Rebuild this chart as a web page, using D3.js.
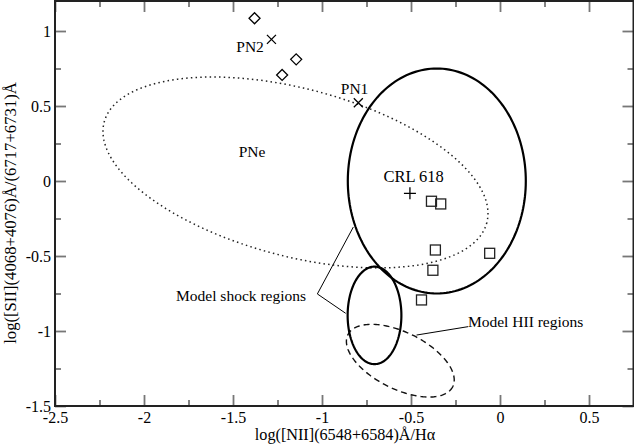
<!DOCTYPE html>
<html>
<head>
<meta charset="utf-8">
<script src="https://cdn.jsdelivr.net/npm/d3@7"></script>
<style>
html,body{margin:0;padding:0;background:#fff;}
svg{display:block;}
text{font-family:"Liberation Serif","Times New Roman",serif;fill:#000;}
</style>
</head>
<body>
<svg id="chart" width="634" height="448"></svg>
<script>
// ---- data (data units) ----
const xDomain = [-2.5, 0.75];
const yDomain = [-1.5, 1.2];
const xTicks = [-2.5, -2, -1.5, -1, -0.5, 0, 0.5];
const yTicks = [-1.5, -1, -0.5, 0, 0.5, 1];
const xMinor = [-2.25, -1.75, -1.25, -0.75, -0.25, 0.25];
const yMinor = [-1.25, -0.75, -0.25, 0.25, 0.75];

const diamonds = [[-1.379, 1.085], [-1.145, 0.811], [-1.224, 0.707]];
const crosses = [[-1.284, 0.944], [-0.796, 0.522]];
const plusPts = [[-0.506, -0.082]];
const squares = [[-0.385, -0.135], [-0.333, -0.153], [-0.363, -0.46], [-0.058, -0.482], [-0.377, -0.595], [-0.441, -0.793]];

// ellipses: center, two conjugate semi-axis vectors (data units)
const ellPNe   = {c: [-1.149, 0.057], u: [1.075, -0.335], v: [-0.119, -0.541]};
const ellCRL   = {c: [-0.355, 0.0],   u: [0.5, 0],        v: [0, 0.75]};
const ellShock = {c: [-0.705, -0.896],u: [0.151, 0],      v: [0, 0.325]};
const ellHII   = {c: [-0.56, -1.198], u: [0.295, -0.172], v: [-0.0687, -0.1708]};

const shockLeader = [[-0.824, -0.307], [-1.026, -0.753], [-0.867, -0.882]];
const hiiLeader = [[-0.469, -1.027], [-0.179, -0.971]];

const labels = [
  {t: "PN2", x: -1.404, y: 0.86, size: 15.5, anchor: "middle"},
  {t: "PN1", x: -0.817, y: 0.58, size: 15.5, anchor: "middle"},
  {t: "PNe", x: -1.393, y: 0.16, size: 15.5, anchor: "middle"},
  {t: "CRL 618", x: -0.485, y: -0.005, size: 16.5, anchor: "middle"},
  {t: "Model shock regions", x: -1.82, y: -0.8, size: 15.5, anchor: "start"},
  {t: "Model HII regions", x: -0.18, y: -0.97, size: 15.5, anchor: "start"}
];

const xTitle = "log([NII](6548+6584)Å/Hα";
const yTitle = "log([SII](4068+4076)Å/(6717+6731)Å";

// ---- drawing ----
const svg = d3.select("#chart");
const L = 55, R = 633.5, T = 1, B = 406;
const x = d3.scaleLinear().domain(xDomain).range([L, R]);
const y = d3.scaleLinear().domain(yDomain).range([B, T]);

const tickCol = "#777";
const fmt = d => String(d);

svg.append("g").attr("transform", `translate(0,${B})`)
  .call(d3.axisBottom(x).tickValues(xTicks).tickSize(-11).tickFormat(fmt).tickPadding(6));
svg.append("g").attr("transform", `translate(0,${T})`)
  .call(d3.axisTop(x).tickValues(xTicks).tickSize(-11).tickFormat(""));
svg.append("g").attr("transform", `translate(${L},0)`)
  .call(d3.axisLeft(y).tickValues(yTicks).tickSize(-11).tickFormat(fmt).tickPadding(4));
svg.append("g").attr("transform", `translate(${R},0)`)
  .call(d3.axisRight(y).tickValues(yTicks).tickSize(-11).tickFormat(""));
svg.append("g").attr("transform", `translate(0,${B})`)
  .call(d3.axisBottom(x).tickValues(xMinor).tickSize(-6).tickFormat(""));
svg.append("g").attr("transform", `translate(0,${T})`)
  .call(d3.axisTop(x).tickValues(xMinor).tickSize(-6).tickFormat(""));
svg.append("g").attr("transform", `translate(${L},0)`)
  .call(d3.axisLeft(y).tickValues(yMinor).tickSize(-6).tickFormat(""));
svg.append("g").attr("transform", `translate(${R},0)`)
  .call(d3.axisRight(y).tickValues(yMinor).tickSize(-6).tickFormat(""));

svg.selectAll(".domain").remove();
svg.selectAll(".tick line").attr("stroke", tickCol).attr("stroke-width", 1.8);
svg.selectAll(".tick text").attr("fill", "#000")
  .style("font-family", '"Liberation Serif",serif').style("font-size", "16px");

// frame
svg.append("rect").attr("x", L).attr("y", T).attr("width", R - L).attr("height", B - T)
  .attr("fill", "none").attr("stroke", "#222").attr("stroke-width", 2);

// ellipses
function ellPath(e){
  const ts = d3.range(0, 361, 2).map(d => d * Math.PI / 180);
  const pts = ts.map(t => [e.c[0] + e.u[0]*Math.cos(t) + e.v[0]*Math.sin(t),
                           e.c[1] + e.u[1]*Math.cos(t) + e.v[1]*Math.sin(t)]);
  return d3.line().x(d => x(d[0])).y(d => y(d[1])).curve(d3.curveLinearClosed)(pts);
}
svg.append("path").attr("d", ellPath(ellPNe)).attr("fill", "none")
  .attr("stroke", "#222").attr("stroke-width", 1.5).attr("stroke-dasharray", "1.5,3.2");
svg.append("path").attr("d", ellPath(ellHII)).attr("fill", "none")
  .attr("stroke", "#111").attr("stroke-width", 1.4).attr("stroke-dasharray", "6,4");
svg.append("path").attr("d", ellPath(ellCRL)).attr("fill", "none")
  .attr("stroke", "#000").attr("stroke-width", 2.2);
svg.append("path").attr("d", ellPath(ellShock)).attr("fill", "none")
  .attr("stroke", "#000").attr("stroke-width", 2.2);

// leaders
const ln = d3.line().x(d => x(d[0])).y(d => y(d[1]));
svg.append("path").attr("d", ln(shockLeader)).attr("fill", "none").attr("stroke", "#000").attr("stroke-width", 1);
svg.append("path").attr("d", ln(hiiLeader)).attr("fill", "none").attr("stroke", "#000").attr("stroke-width", 1);

// markers
svg.selectAll(".dia").data(diamonds).enter().append("path")
  .attr("d", d => { const cx = x(d[0]), cy = y(d[1]), s = 5.5;
    return `M${cx},${cy-s}L${cx+s},${cy}L${cx},${cy+s}L${cx-s},${cy}Z`; })
  .attr("fill", "none").attr("stroke", "#000").attr("stroke-width", 1.3);
svg.selectAll(".crs").data(crosses).enter().append("path")
  .attr("d", d => { const cx = x(d[0]), cy = y(d[1]), s = 4.5;
    return `M${cx-s},${cy-s}L${cx+s},${cy+s}M${cx-s},${cy+s}L${cx+s},${cy-s}`; })
  .attr("fill", "none").attr("stroke", "#000").attr("stroke-width", 1.3);
svg.selectAll(".pls").data(plusPts).enter().append("path")
  .attr("d", d => { const cx = x(d[0]), cy = y(d[1]), s = 6;
    return `M${cx-s},${cy}L${cx+s},${cy}M${cx},${cy-s}L${cx},${cy+s}`; })
  .attr("fill", "none").attr("stroke", "#000").attr("stroke-width", 1.3);
svg.selectAll(".sq").data(squares).enter().append("rect")
  .attr("x", d => x(d[0]) - 5).attr("y", d => y(d[1]) - 5)
  .attr("width", 10).attr("height", 10)
  .attr("fill", "none").attr("stroke", "#222").attr("stroke-width", 1.3);

// labels
svg.selectAll(".lab").data(labels).enter().append("text")
  .attr("x", d => x(d.x)).attr("y", d => y(d.y))
  .attr("text-anchor", d => d.anchor).style("font-size", d => d.size + "px")
  .text(d => d.t);

// axis titles
svg.append("text").attr("x", 345).attr("y", 440)
  .attr("text-anchor", "middle").style("font-size", "16.2px").text(xTitle);
svg.append("text").attr("transform", `translate(16,213) rotate(-90)`)
  .attr("text-anchor", "middle").style("font-size", "16.7px").text(yTitle);
</script>
</body>
</html>
